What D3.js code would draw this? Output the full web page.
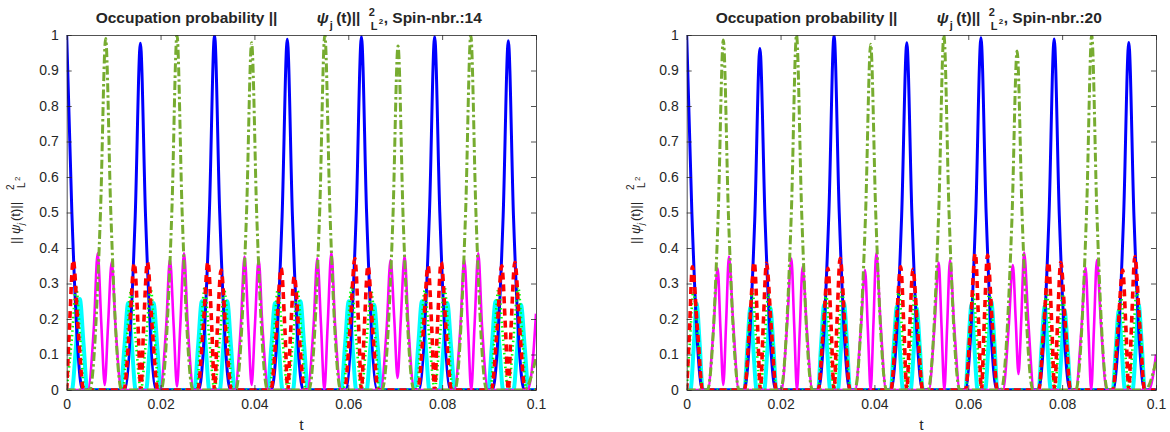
<!DOCTYPE html>
<html>
<head>
<meta charset="utf-8">
<script src="https://cdn.jsdelivr.net/npm/d3@7"></script>
<style>
body{margin:0;background:#fff}
svg{display:block;font-family:"Liberation Sans",Arial,Helvetica,sans-serif}
</style>
</head>
<body>
<div id="chart"></div>
<script>
// axis ticks
var tTicks = [0,0.02,0.04,0.06,0.08,0.1]
var tLabels = ['0','0.02','0.04','0.06','0.08','0.1']
var pTicks = [0,0.1,0.2,0.3,0.4,0.5,0.6,0.7,0.8,0.9,1]
var pLabels = ['0','0.1','0.2','0.3','0.4','0.5','0.6','0.7','0.8','0.9','1']
var spins = [14,20]

// ---- Spin-nbr 14 : [t, probability]
var blue14 = [[0,1],[0.0011,0.5],[0.0034,0],
[0.0123,0],[0.0146,0.49],[0.0157,0.977],[0.0168,0.49],[0.0191,0],
[0.0281,0],[0.0304,0.5],[0.0315,1],[0.0326,0.5],[0.0349,0],
[0.0436,0],[0.0459,0.49],[0.0470,0.988],[0.0481,0.49],[0.0504,0],
[0.0594,0],[0.0617,0.5],[0.0628,0.995],[0.0639,0.5],[0.0662,0],
[0.0750,0],[0.0773,0.5],[0.0784,0.995],[0.0795,0.5],[0.0818,0],
[0.0907,0],[0.0930,0.49],[0.0941,0.984],[0.0952,0.49],[0.0975,0],[0.1,0]]

var red14 = [[0,0],[0.0006,0.18],[0.0014,0.366],[0.0024,0.18],[0.0036,0],
[0.0122,0],[0.0134,0.18],[0.0144,0.357],[0.0152,0.18],[0.0158,0],[0.0164,0.18],[0.0172,0.36],[0.0182,0.18],[0.0194,0],
[0.0279,0],[0.0291,0.18],[0.0301,0.361],[0.0309,0.18],[0.0315,0],[0.0321,0.17],[0.0329,0.338],[0.0339,0.17],[0.0351,0],
[0.0435,0],[0.0447,0.17],[0.0457,0.343],[0.0465,0.17],[0.0471,0],[0.0477,0.16],[0.0485,0.32],[0.0495,0.16],[0.0507,0],
[0.0592,0],[0.0604,0.18],[0.0614,0.37],[0.0622,0.18],[0.0628,0],[0.0634,0.17],[0.0642,0.35],[0.0652,0.17],[0.0664,0],
[0.0748,0],[0.0760,0.17],[0.0770,0.35],[0.0778,0.17],[0.0784,0],[0.0790,0.18],[0.0798,0.36],[0.0808,0.18],[0.0820,0],
[0.0905,0],[0.0917,0.17],[0.0927,0.35],[0.0935,0.17],[0.0941,0],[0.0947,0.18],[0.0955,0.36],[0.0965,0.18],[0.0977,0],[0.1,0]]

var dotted14 = [[0,0],[0.0011,0.145],[0.0020,0.29],[0.0029,0.145],[0.0038,0],
[0.0120,0],[0.0128,0.14],[0.0137,0.28],[0.0147,0.14],[0.0158,0],[0.0169,0.14],[0.0179,0.285],[0.0188,0.14],[0.0196,0],
[0.0277,0],[0.0285,0.145],[0.0294,0.29],[0.0304,0.14],[0.0315,0],[0.0326,0.14],[0.0336,0.28],[0.0345,0.14],[0.0353,0],
[0.0433,0],[0.0441,0.14],[0.0450,0.285],[0.0460,0.14],[0.0471,0],[0.0482,0.14],[0.0492,0.28],[0.0501,0.14],[0.0509,0],
[0.0590,0],[0.0598,0.145],[0.0607,0.29],[0.0617,0.14],[0.0628,0],[0.0639,0.14],[0.0649,0.28],[0.0658,0.14],[0.0666,0],
[0.0746,0],[0.0754,0.14],[0.0763,0.28],[0.0773,0.14],[0.0784,0],[0.0795,0.145],[0.0805,0.29],[0.0814,0.145],[0.0822,0],
[0.0903,0],[0.0911,0.14],[0.0920,0.285],[0.0930,0.14],[0.0941,0],[0.0952,0.145],[0.0962,0.29],[0.0971,0.145],[0.0979,0],[0.1,0]]

var cyan14 = [[0,0],[0.0011,0],[0.0020,0.128],[0.0028,0.256],[0.0036,0.128],[0.0044,0],
[0.0115,0],[0.0123,0.122],[0.0131,0.245],[0.0139,0.122],[0.0147,0],[0.0169,0],[0.0177,0.122],[0.0185,0.245],[0.0193,0.122],[0.0201,0],
[0.0272,0],[0.0280,0.125],[0.0288,0.25],[0.0296,0.125],[0.0304,0],[0.0326,0],[0.0334,0.125],[0.0342,0.25],[0.0350,0.125],[0.0358,0],
[0.0428,0],[0.0436,0.122],[0.0444,0.245],[0.0452,0.122],[0.0460,0],[0.0482,0],[0.0490,0.125],[0.0498,0.25],[0.0506,0.125],[0.0514,0],
[0.0585,0],[0.0593,0.125],[0.0601,0.25],[0.0609,0.125],[0.0617,0],[0.0639,0],[0.0647,0.12],[0.0655,0.24],[0.0663,0.12],[0.0671,0],
[0.0741,0],[0.0749,0.125],[0.0757,0.25],[0.0765,0.125],[0.0773,0],[0.0795,0],[0.0803,0.122],[0.0811,0.245],[0.0819,0.122],[0.0827,0],
[0.0898,0],[0.0906,0.125],[0.0914,0.25],[0.0922,0.125],[0.0930,0],[0.0952,0],[0.0960,0.12],[0.0968,0.24],[0.0976,0.12],[0.0984,0],[0.1,0]]

var magenta14 = [[0,0],
[0.0045,0],[0.0058,0.18],[0.0066,0.385],[0.0074,0.18],[0.0081,0.014],[0.0088,0.18],[0.0096,0.361],[0.0104,0.18],[0.0117,0],
[0.0199,0],[0.0212,0.18],[0.0220,0.368],[0.0228,0.18],[0.0235,0.01],[0.0242,0.18],[0.0250,0.385],[0.0258,0.18],[0.0271,0],
[0.0358,0],[0.0371,0.18],[0.0379,0.376],[0.0387,0.18],[0.0394,0.014],[0.0401,0.18],[0.0409,0.368],[0.0417,0.18],[0.0430,0],
[0.0513,0],[0.0526,0.18],[0.0534,0.371],[0.0542,0.18],[0.0549,0],[0.0556,0.18],[0.0564,0.387],[0.0572,0.18],[0.0585,0],
[0.0669,0],[0.0682,0.18],[0.0690,0.366],[0.0698,0.2],[0.0705,0.034],[0.0712,0.2],[0.0720,0.377],[0.0728,0.18],[0.0741,0],
[0.0826,0],[0.0839,0.18],[0.0847,0.368],[0.0855,0.18],[0.0862,0],[0.0869,0.18],[0.0877,0.385],[0.0885,0.18],[0.0898,0],
[0.0982,0],[0.0993,0.08],[0.1,0.215]]

var olive14 = [[0,0],[0.0049,0],[0.0072,0.5],[0.0083,0.99],[0.0094,0.5],[0.0117,0],
[0.0201,0],[0.0224,0.5],[0.0235,1],[0.0246,0.5],[0.0269,0],
[0.0360,0],[0.0383,0.49],[0.0394,0.978],[0.0405,0.49],[0.0428,0],
[0.0516,0],[0.0539,0.5],[0.0550,1],[0.0561,0.5],[0.0584,0],
[0.0672,0],[0.0695,0.48],[0.0706,0.969],[0.0717,0.48],[0.0740,0],
[0.0827,0],[0.0850,0.5],[0.0861,1],[0.0872,0.5],[0.0895,0],
[0.0975,0],[0.1,0.09]]

// ---- Spin-nbr 20
var blue20 = [[0,1],[0.0011,0.5],[0.0034,0],
[0.0122,0],[0.0145,0.48],[0.0156,0.962],[0.0167,0.48],[0.0190,0],
[0.0280,0],[0.0303,0.5],[0.0314,1],[0.0325,0.5],[0.0348,0],
[0.0435,0],[0.0458,0.49],[0.0469,0.978],[0.0480,0.49],[0.0503,0],
[0.0593,0],[0.0616,0.5],[0.0627,0.992],[0.0638,0.5],[0.0661,0],
[0.0749,0],[0.0772,0.49],[0.0783,0.989],[0.0794,0.49],[0.0817,0],
[0.0908,0],[0.0931,0.49],[0.0942,0.979],[0.0953,0.49],[0.0976,0],[0.1,0]]

var red20 = [[0,0],[0.0006,0.17],[0.0012,0.347],[0.0023,0.17],[0.0034,0],
[0.0123,0],[0.0134,0.18],[0.0144,0.36],[0.0151,0.18],[0.0157,0],[0.0163,0.18],[0.0170,0.357],[0.0180,0.18],[0.0191,0],
[0.0280,0],[0.0291,0.17],[0.0301,0.343],[0.0308,0.17],[0.0314,0],[0.0320,0.185],[0.0327,0.371],[0.0337,0.185],[0.0348,0],
[0.0435,0],[0.0446,0.17],[0.0456,0.347],[0.0463,0.17],[0.0469,0],[0.0475,0.17],[0.0482,0.34],[0.0492,0.17],[0.0503,0],
[0.0594,0],[0.0605,0.19],[0.0615,0.385],[0.0622,0.19],[0.0628,0],[0.0634,0.19],[0.0641,0.38],[0.0651,0.19],[0.0662,0],
[0.0750,0],[0.0761,0.18],[0.0771,0.36],[0.0778,0.18],[0.0784,0],[0.0790,0.18],[0.0797,0.36],[0.0807,0.18],[0.0818,0],
[0.0908,0],[0.0919,0.17],[0.0929,0.338],[0.0936,0.17],[0.0942,0],[0.0948,0.19],[0.0955,0.376],[0.0965,0.19],[0.0976,0],[0.1,0]]

var dotted20 = [[0,0],[0.0007,0.14],[0.0014,0.277],[0.0024,0.14],[0.0034,0],
[0.0123,0],[0.0131,0.14],[0.0140,0.28],[0.0148,0.14],[0.0157,0],[0.0166,0.135],[0.0174,0.27],[0.0183,0.135],[0.0191,0],
[0.0280,0],[0.0288,0.135],[0.0297,0.27],[0.0305,0.135],[0.0314,0],[0.0323,0.14],[0.0331,0.28],[0.0340,0.14],[0.0348,0],
[0.0435,0],[0.0443,0.14],[0.0452,0.28],[0.0460,0.14],[0.0469,0],[0.0478,0.135],[0.0486,0.27],[0.0495,0.135],[0.0503,0],
[0.0594,0],[0.0602,0.135],[0.0611,0.27],[0.0619,0.135],[0.0628,0],[0.0637,0.14],[0.0645,0.28],[0.0654,0.14],[0.0662,0],
[0.0750,0],[0.0758,0.14],[0.0767,0.28],[0.0775,0.14],[0.0784,0],[0.0793,0.135],[0.0801,0.27],[0.0810,0.135],[0.0818,0],
[0.0908,0],[0.0916,0.135],[0.0925,0.27],[0.0933,0.135],[0.0942,0],[0.0951,0.14],[0.0959,0.285],[0.0968,0.14],[0.0976,0],[0.1,0]]

var cyan20 = [[0,0],[0.0008,0],[0.0015,0.122],[0.0021,0.244],[0.0028,0.122],[0.0034,0],
[0.0123,0],[0.0129,0.116],[0.0136,0.233],[0.0142,0.116],[0.0149,0],[0.0165,0],[0.0172,0.116],[0.0178,0.232],[0.0185,0.116],[0.0191,0],
[0.0280,0],[0.0286,0.12],[0.0293,0.24],[0.0299,0.12],[0.0306,0],[0.0322,0],[0.0329,0.122],[0.0335,0.245],[0.0342,0.122],[0.0348,0],
[0.0435,0],[0.0441,0.118],[0.0448,0.236],[0.0454,0.118],[0.0461,0],[0.0477,0],[0.0484,0.115],[0.0490,0.23],[0.0497,0.115],[0.0503,0],
[0.0594,0],[0.0600,0.12],[0.0607,0.24],[0.0613,0.12],[0.0620,0],[0.0636,0],[0.0643,0.125],[0.0649,0.249],[0.0656,0.125],[0.0662,0],
[0.0750,0],[0.0756,0.118],[0.0763,0.236],[0.0769,0.118],[0.0776,0],[0.0792,0],[0.0799,0.112],[0.0805,0.225],[0.0812,0.112],[0.0818,0],
[0.0908,0],[0.0914,0.112],[0.0921,0.225],[0.0927,0.112],[0.0934,0],[0.0950,0],[0.0957,0.12],[0.0963,0.24],[0.0970,0.12],[0.0976,0],[0.1,0]]

var magenta20 = [[0,0],
[0.0045,0],[0.0057,0.17],[0.0066,0.343],[0.0072,0.17],[0.0078,0.014],[0.0084,0.19],[0.0090,0.376],[0.0099,0.19],[0.0111,0],
[0.0202,0],[0.0214,0.185],[0.0223,0.37],[0.0229,0.185],[0.0235,0],[0.0241,0.17],[0.0247,0.347],[0.0256,0.17],[0.0268,0],
[0.0359,0],[0.0371,0.17],[0.0380,0.338],[0.0386,0.17],[0.0392,0],[0.0398,0.19],[0.0404,0.385],[0.0413,0.19],[0.0425,0],
[0.0516,0],[0.0528,0.18],[0.0537,0.359],[0.0543,0.18],[0.0549,0],[0.0555,0.18],[0.0561,0.366],[0.0570,0.18],[0.0582,0],
[0.0674,0],[0.0686,0.175],[0.0695,0.352],[0.0701,0.2],[0.0707,0.045],[0.0713,0.2],[0.0719,0.387],[0.0728,0.19],[0.0740,0],
[0.0829,0],[0.0841,0.17],[0.0850,0.345],[0.0856,0.17],[0.0862,0],[0.0868,0.18],[0.0874,0.366],[0.0883,0.18],[0.0895,0],
[0.0985,0],[0.0995,0.05],[0.1,0.1]]

var olive20 = [[0,0],[0.0044,0],[0.0067,0.49],[0.0078,0.986],[0.0089,0.49],[0.0112,0],
[0.0200,0],[0.0223,0.5],[0.0234,1],[0.0245,0.5],[0.0268,0],
[0.0358,0],[0.0381,0.49],[0.0392,0.974],[0.0403,0.49],[0.0426,0],
[0.0514,0],[0.0537,0.5],[0.0548,1],[0.0559,0.5],[0.0582,0],
[0.0670,0],[0.0693,0.48],[0.0704,0.955],[0.0715,0.48],[0.0738,0],
[0.0829,0],[0.0852,0.5],[0.0863,1],[0.0874,0.5],[0.0897,0],
[0.0977,0],[0.1,0.08]]

var seriesBySpin = {
  14: {cyan:cyan14, blue:blue14, dotted:dotted14, red:red14, magenta:magenta14, olive:olive14},
  20: {cyan:cyan20, blue:blue20, dotted:dotted20, red:red20, magenta:magenta20, olive:olive20}
}

var styles = [
  {key:'cyan', color:'#00FFFF', width:4, dash:null},
  {key:'blue', color:'#0000FF', width:3, dash:null},
  {key:'dotted', color:'#00FF00', width:2.6, dash:'1.5,3'},
  {key:'red', color:'#FF0000', width:3.6, dash:'7,5'},
  {key:'magenta', color:'#FF00FF', width:2.6, dash:null},
  {key:'olive', color:'#77AC30', width:3, dash:'9,3,2.5,3'}
]

var W = 1170, H = 432
var txt = '#262626'
var svg = d3.select('#chart').append('svg').attr('width',W).attr('height',H)

function drawPanel(spin, x0){
  var pw = 469.3, top = 35, bot = 390
  var x = d3.scaleLinear().domain([0,0.1]).range([x0,x0+pw])
  var y = d3.scaleLinear().domain([0,1]).range([bot,top])
  var g = svg.append('g')

  g.append('clipPath').attr('id','clip'+spin)
    .append('rect').attr('x',x0).attr('y',top).attr('width',pw).attr('height',bot-top)

  var line = d3.line().x(d=>x(d[0])).y(d=>y(d[1])).curve(d3.curveMonotoneX)
  var lines = g.append('g').attr('clip-path','url(#clip'+spin+')')
  styles.forEach(s=>{
    lines.append('path').datum(seriesBySpin[spin][s.key])
      .attr('d',line).attr('fill','none')
      .attr('stroke',s.color).attr('stroke-width',s.width)
      .attr('stroke-linejoin','round')
      .attr('stroke-dasharray',s.dash)
  })

  var fmtT = d=>tLabels[tTicks.indexOf(d)]
  var fmtP = d=>pLabels[pTicks.indexOf(d)]
  var axes = [
    [d3.axisBottom(x).tickValues(tTicks).tickFormat(fmtT).tickPadding(9), 'translate(0,'+bot+')'],
    [d3.axisTop(x).tickValues(tTicks).tickFormat(''), 'translate(0,'+top+')'],
    [d3.axisLeft(y).tickValues(pTicks).tickFormat(fmtP).tickPadding(8), 'translate('+x0+',0)'],
    [d3.axisRight(y).tickValues(pTicks).tickFormat(''), 'translate('+(x0+pw)+',0)']
  ]
  axes.forEach(a=>{
    var ax = g.append('g').attr('transform',a[1])
      .call(a[0].tickSizeInner(-5).tickSizeOuter(0))
    ax.selectAll('path,line').attr('stroke','#262626').attr('stroke-width',0.8)
    ax.selectAll('text').attr('fill',txt).style('font-size','14px')
      .style('font-family','"Liberation Sans",Arial,sans-serif')
  })

  // title (TeX pieces placed as in the picture)
  var tt = g.append('g').attr('fill',txt).attr('font-weight','bold')
  tt.append('text').attr('x',x0+29).attr('y',23).style('font-size','15.5px').text('Occupation probability ||')
  tt.append('text').attr('x',x0+250).attr('y',23).style('font-size','15.5px').style('font-style','italic').text('\u03c8')
  tt.append('text').attr('x',x0+263).attr('y',29).style('font-size','11px').text('j')
  tt.append('text').attr('x',x0+269.5).attr('y',23).style('font-size','15.5px').text('(t)||')
  tt.append('text').attr('x',x0+302).attr('y',16).style('font-size','11px').text('2')
  tt.append('text').attr('x',x0+304).attr('y',30).style('font-size','11px').text('L')
  tt.append('text').attr('x',x0+312).attr('y',24).style('font-size','8px').text('2')
  tt.append('text').attr('x',x0+317).attr('y',23).style('font-size','15.5px').text(', Spin-nbr.:'+spin)

  // x label
  g.append('text').attr('x',x0+pw/2).attr('y',430).attr('text-anchor','middle')
    .attr('fill',txt).style('font-size','15.5px').text('t')

  // y label
  var yl = g.append('g').attr('transform','translate('+(x0-47)+',244) rotate(-90)').attr('fill',txt)
  yl.append('text').attr('x',0).attr('y',0).style('font-size','13px').text('||')
  yl.append('text').attr('x',10).attr('y',0).style('font-size','13px').style('font-style','italic').text('\u03c8')
  yl.append('text').attr('x',19).attr('y',4).style('font-size','9px').style('font-style','italic').text('j')
  yl.append('text').attr('x',23).attr('y',0).style('font-size','13px').text('(t)||')
  yl.append('text').attr('x',54).attr('y',-6).style('font-size','10px').text('2')
  yl.append('text').attr('x',56).attr('y',5).style('font-size','10px').text('L')
  yl.append('text').attr('x',63).attr('y',0).style('font-size','8px').text('2')
}

drawPanel(spins[0], 66.7)
drawPanel(spins[1], 686.7)
</script>
</body>
</html>
